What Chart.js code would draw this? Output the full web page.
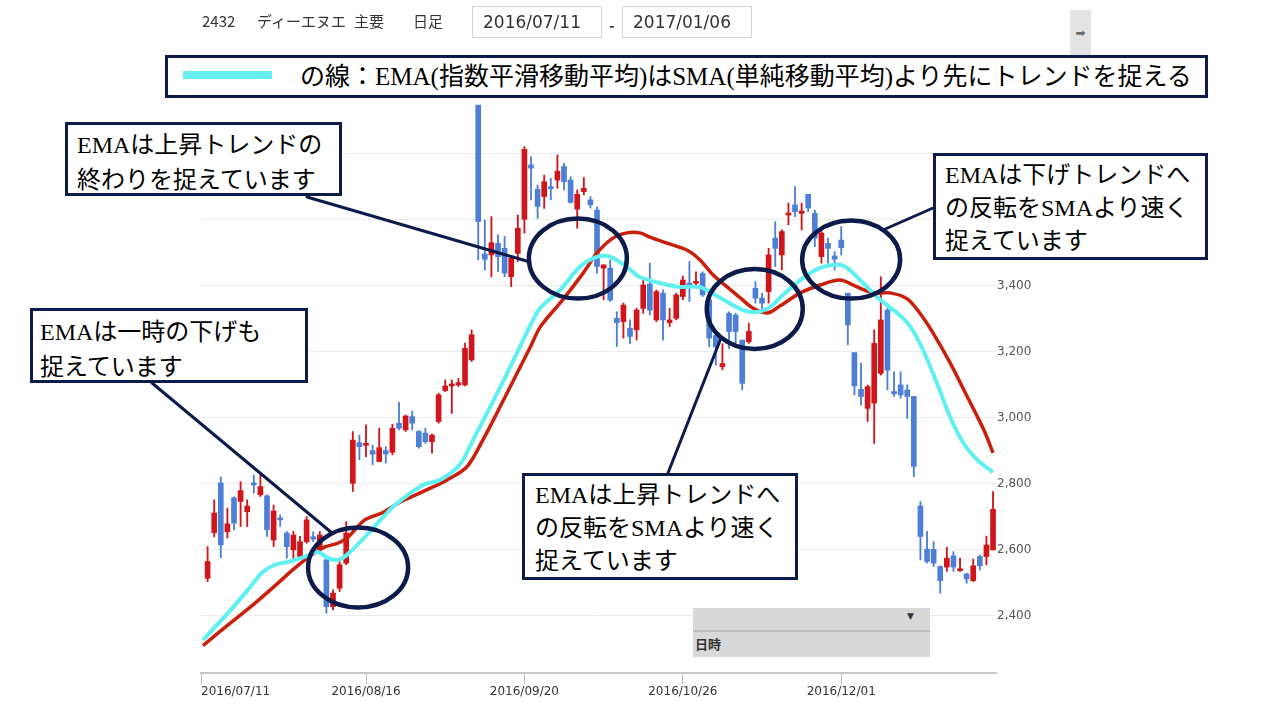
<!DOCTYPE html>
<html lang="ja">
<head>
<meta charset="utf-8">
<title>2432 ディーエヌエ 日足</title>
<script src="https://cdn.jsdelivr.net/npm/chart.js@4.4.1/dist/chart.umd.min.js"></script>
<style>
  html, body { margin: 0; padding: 0; background: #fff; }
  #wrap { position: relative; width: 1280px; height: 720px; overflow: hidden; font-family: "Noto Sans CJK JP", sans-serif; }
  #stats-chart { position: absolute; left: 0; top: 0; }
  .hdr { position: absolute; top: 10px; font-size: 15px; line-height: 22px; color: #333; white-space: nowrap; }
  .date-box { position: absolute; top: 6px; width: 130px; height: 32px; box-sizing: border-box; border: 1px solid #d4d4d4;
              font-family: "DejaVu Sans", sans-serif; font-size: 17px; line-height: 30px; color: #333; padding-left: 10px; background: #fff; }
  #side-btn { position: absolute; left: 1070px; top: 10px; width: 21px; height: 46px; background: #e3e3e3; color: #666;
              font-family: "DejaVu Sans", sans-serif; font-size: 12px; line-height: 46px; text-align: center; }
  .note { position: absolute; box-sizing: border-box; background: #fff; border: 3px solid #0d1b4b; color: #000;
          font-family: "Liberation Serif", "Noto Sans CJK JP", serif; font-size: 24px; white-space: nowrap; }
  #legend-box { left: 165px; top: 55px; width: 1043px; height: 43px; }
  #legend-swatch { position: absolute; left: 15px; top: 13px; width: 89px; height: 8px; background: #66eef0; }
  #legend-text { position: absolute; left: 132px; top: 1px; font-size: 25px; line-height: 36px; }
  #dropdown { position: absolute; left: 693px; top: 608px; width: 237px; height: 49px; background: #d8d8d8; }
  #dropdown .bar { position: absolute; left: 0; top: 22px; width: 237px; height: 2px; background: #bdbdbd; }
  #dropdown .arrow { position: absolute; left: 214px; top: 3px; font-size: 9px; color: #333; font-family: "DejaVu Sans", sans-serif; }
  #dropdown .lbl { position: absolute; left: 2px; top: 26px; font-size: 13px; font-weight: bold; color: #333; line-height: 20px; }
</style>
</head>
<body>
<div id="wrap">
  <canvas id="stats-chart" width="1280" height="720"></canvas>

  <div class="hdr" style="left:202px">2432</div>
  <div class="hdr" style="left:257px">ディーエヌエ</div>
  <div class="hdr" style="left:354px">主要</div>
  <div class="hdr" style="left:413px">日足</div>
  <div class="date-box" style="left:472px">2016/07/11</div>
  <div class="hdr" style="left:609px;top:14px;font-weight:bold">-</div>
  <div class="date-box" style="left:622px">2017/01/06</div>
  <div id="side-btn">➡</div>

  <div class="note" id="legend-box">
    <div id="legend-swatch"></div>
    <div id="legend-text">の線：EMA(指数平滑移動平均)はSMA(単純移動平均)より先にトレンドを捉える</div>
  </div>

  <div class="note" style="left:65px;top:122px;width:277px;height:74px;padding:3px 0 0 9px;line-height:35px">EMAは上昇トレンドの<br>終わりを捉えています</div>
  <div class="note" style="left:30px;top:308px;width:278px;height:75px;padding:4px 0 0 7px;line-height:35px">EMAは一時の下げも<br>捉えています</div>
  <div class="note" style="left:933px;top:153px;width:275px;height:107px;padding:3px 0 0 9px;line-height:33px">EMAは下げトレンドへ<br>の反転をSMAより速く<br>捉えています</div>
  <div class="note" style="left:522px;top:473px;width:276px;height:107px;padding:3px 0 0 10px;line-height:33px">EMAは上昇トレンドへ<br>の反転をSMAより速く<br>捉えています</div>

  <div id="dropdown">
    <div class="arrow">▼</div>
    <div class="bar"></div>
    <div class="lbl">日時</div>
  </div>
</div>

<script>
// 2016/07/11 - 2017/01/06, one candle per trading day (index 0..119)
const openVals = [2514, 2652, 2803, 2655, 2758, 2747, 2716, 2803, 2767, 2764,
                  2630, 2694, 2651, 2600, 2580, 2625, 2640, 2600, 2570, 2428,
                  2484, 2560, 2802, 2925, 2917, 2901, 2868, 2901, 2896, 2984,
                  2964, 3004, 2959, 2954, 2928, 2989, 3083, 3097, 3100, 3100,
                  3176, 3948, 3497, 3494, 3529, 3514, 3428, 3499, 3602, 3767,
                  3693, 3671, 3699, 3721, 3762, 3721, 3633, 3686, 3661, 3630,
                  3454, 3454, 3302, 3292, 3272, 3267, 3332, 3406, 3297, 3378,
                  3289, 3302, 3368, 3408, 3408, 3438, 3358, 3250, 3155, 3317,
                  3312, 3236, 3231, 3393, 3363, 3383, 3545, 3494, 3615, 3646,
                  3620, 3678, 3620, 3489, 3529, 3491, 3539, 3378, 3198, 3087,
                  3029, 3045, 3135, 3327, 3080, 3100, 3085, 3065, 2733, 2602,
                  2602, 2550, 2548, 2582, 2537, 2527, 2507, 2580, 2580, 2600];
const highVals = [2610, 2752, 2821, 2727, 2761, 2807, 2752, 2827, 2827, 2767,
                  2736, 2706, 2656, 2656, 2641, 2701, 2655, 2656, 2580, 2479,
                  2565, 2686, 2959, 2948, 2979, 2918, 2969, 2913, 2981, 3047,
                  3009, 3021, 2962, 2969, 2951, 3075, 3115, 3115, 3120, 3227,
                  3267, 3948, 3600, 3610, 3555, 3550, 3489, 3615, 3822, 3792,
                  3706, 3736, 3726, 3797, 3772, 3731, 3691, 3729, 3671, 3640,
                  3464, 3479, 3322, 3348, 3297, 3332, 3420, 3469, 3388, 3388,
                  3332, 3378, 3430, 3474, 3443, 3443, 3363, 3260, 3225, 3322,
                  3317, 3236, 3287, 3413, 3378, 3514, 3595, 3570, 3651, 3701,
                  3651, 3678, 3630, 3565, 3545, 3504, 3580, 3378, 3198, 3166,
                  3100, 3267, 3428, 3332, 3140, 3140, 3100, 3065, 2747, 2656,
                  2625, 2552, 2608, 2595, 2575, 2530, 2572, 2585, 2642, 2777];
const lowVals  = [2504, 2640, 2576, 2636, 2661, 2671, 2671, 2772, 2762, 2641,
                  2610, 2671, 2575, 2575, 2575, 2620, 2625, 2590, 2408, 2418,
                  2474, 2555, 2777, 2873, 2883, 2858, 2868, 2863, 2888, 2964,
                  2959, 2964, 2908, 2923, 2893, 2984, 3080, 3014, 3095, 3097,
                  3171, 3479, 3448, 3428, 3444, 3428, 3398, 3474, 3560, 3661,
                  3605, 3635, 3661, 3696, 3691, 3651, 3575, 3676, 3636, 3439,
                  3358, 3353, 3216, 3242, 3226, 3236, 3317, 3312, 3292, 3236,
                  3277, 3297, 3358, 3353, 3398, 3368, 3216, 3160, 3146, 3211,
                  3226, 3085, 3226, 3348, 3327, 3348, 3459, 3449, 3585, 3610,
                  3570, 3625, 3519, 3469, 3469, 3448, 3494, 3221, 3070, 3039,
                  2989, 2923, 3130, 3085, 3065, 3060, 2999, 2822, 2570, 2560,
                  2550, 2469, 2535, 2535, 2535, 2499, 2504, 2539, 2555, 2600];
const closeVals = [2565, 2712, 2615, 2679, 2681, 2780, 2733, 2797, 2792, 2661,
                   2718, 2691, 2610, 2645, 2625, 2691, 2633, 2645, 2428, 2469,
                   2555, 2651, 2933, 2913, 2923, 2890, 2910, 2891, 2969, 2969,
                   3006, 2984, 2913, 2928, 2948, 3070, 3097, 3102, 3107, 3211,
                   3252, 3595, 3481, 3531, 3489, 3439, 3484, 3575, 3814, 3757,
                   3641, 3716, 3695, 3748, 3716, 3653, 3678, 3696, 3646, 3459,
                   3464, 3357, 3289, 3342, 3247, 3327, 3403, 3327, 3383, 3297,
                   3297, 3373, 3418, 3403, 3413, 3373, 3242, 3215, 3165, 3262,
                   3262, 3105, 3262, 3363, 3348, 3494, 3514, 3565, 3620, 3625,
                   3627, 3636, 3545, 3560, 3514, 3481, 3516, 3282, 3097, 3065,
                   3095, 3226, 3297, 3145, 3073, 3070, 3065, 2853, 2641, 2565,
                   2560, 2507, 2575, 2548, 2542, 2512, 2552, 2552, 2615, 2723];

// moving averages (candle index, price)
const emaIdx  = [-0.7, 3.1, 6.1, 8.2, 10.2, 12.2, 14.8, 16.7, 18.2, 19.8, 21.1, 23.4, 25.8, 28.4, 32.6, 35.2, 38.2, 40.2,
                 42.8, 45.4, 47.3, 49.3, 50.4, 53.4, 56.4, 59, 61, 63.5, 65.5, 68.5, 71.6, 74.6, 76.1, 78.7, 81.1,
                 83.2, 85.2, 86.7, 89.8, 92.8, 95.8, 97.3, 99.3, 101.9, 104.5, 106.5, 108.4, 110.5, 112.5, 114.5, 116.6, 119];
const emaVals = [2327, 2409, 2479, 2530, 2555, 2564, 2580, 2594, 2576, 2570, 2585, 2630, 2682, 2736, 2797, 2812, 2858, 2933,
                 3033, 3136, 3215, 3297, 3333, 3388, 3458, 3488, 3488, 3458, 3427, 3409, 3397, 3397, 3382, 3352, 3327,
                 3321, 3336, 3364, 3418, 3455, 3464, 3448, 3409, 3358, 3318, 3276, 3206, 3106, 3003, 2924, 2873, 2836];
const smaIdx  = [-0.7, 3.1, 7.2, 10.7, 13.2, 15.8, 17.8, 19.8, 21.3, 23.8, 26.4, 28.4, 29.9, 33.2, 36.3, 39.3, 41.7, 44.3,
                 46.9, 48.9, 50.4, 53.8, 56.9, 59, 61.4, 63.5, 65.5, 67, 69.6, 72.6, 74.6, 76.6, 78.7, 80.7, 82.6,
                 84.8, 86.7, 89.8, 92.8, 95.8, 98.4, 100.8, 103.4, 106, 107.9, 109.9, 112.5, 115.1, 117.6, 119];
const smaVals = [2310, 2373, 2439, 2500, 2545, 2585, 2609, 2621, 2639, 2691, 2712, 2736, 2752, 2782, 2812, 2852, 2933, 3033,
                 3136, 3215, 3276, 3358, 3439, 3500, 3545, 3561, 3561, 3548, 3530, 3509, 3479, 3433, 3397, 3364, 3333,
                 3318, 3339, 3379, 3403, 3418, 3397, 3379, 3379, 3361, 3318, 3258, 3167, 3064, 2964, 2894];

const xTickIdx = [-1, 24, 48, 72, 96, 119.45];
const xTickLabels = ['2016/07/11', '2016/08/16', '2016/09/20', '2016/10/26', '2016/12/01', ''];
const yTickVals = [2400, 2600, 2800, 3000, 3200, 3400, 3600, 3800, 4000];
const yTickLabels = ['2,400', '2,600', '2,800', '3,000', '3,200', '3,400', '', '', ''];

const upColor = '#d0151b';
const downColor = '#4e7fd6';
const navy = '#0d1b4b';

// highlighted areas (candle index, price) and their leader lines (page pixels)
const ellipses = [
    { idx: 22.8, val: 2547, rx: 50, ry: 40 },
    { idx: 56.1, val: 3483, rx: 49, ry: 40 },
    { idx: 82.9, val: 3330, rx: 48, ry: 40 },
    { idx: 97.5, val: 3480, rx: 49, ry: 39 }
];
const leaderLines = [
    [307, 197, 530, 262],
    [152, 383, 332, 533],
    [883, 230, 933, 208],
    [668, 473, 721, 338]
];

const candleColor = (context) => closeVals[context.dataIndex] >= openVals[context.dataIndex] ? upColor : downColor;

const noteMarks = {
    id: 'noteMarks',
    afterDraw(chart) {
        const { ctx, scales } = chart;
        ctx.save();
        ctx.strokeStyle = navy;
        ctx.lineWidth = 3;
        ctx.lineCap = 'round';
        for (const l of leaderLines) {
            ctx.beginPath();
            ctx.moveTo(l[0], l[1]);
            ctx.lineTo(l[2], l[3]);
            ctx.stroke();
        }
        ctx.lineWidth = 4.5;
        for (const e of ellipses) {
            ctx.beginPath();
            ctx.ellipse(scales.x.getPixelForValue(e.idx), scales.y.getPixelForValue(e.val), e.rx, e.ry, 0, 0, Math.PI * 2);
            ctx.stroke();
        }
        ctx.restore();
    }
};

Chart.defaults.font.family = '"DejaVu Sans", sans-serif';
Chart.defaults.font.size = 12;

const ctx = document.getElementById('stats-chart');

const chart = new Chart(ctx, {
    type: 'bar',
    data: {
        datasets: [
            {
                type: 'line',
                label: 'EMA',
                data: emaIdx.map((v, i) => ({ x: v, y: emaVals[i] })),
                borderColor: '#5ff0f2',
                borderWidth: 4,
                pointRadius: 0,
                tension: 0.3,
                order: 0
            },
            {
                type: 'line',
                label: 'SMA',
                data: smaIdx.map((v, i) => ({ x: v, y: smaVals[i] })),
                borderColor: '#c8200c',
                borderWidth: 3.5,
                pointRadius: 0,
                tension: 0.3,
                order: 0
            },
            {
                label: 'body',
                data: openVals.map((o, i) => ({ x: i, y: [o, closeVals[i]] })),
                backgroundColor: candleColor,
                barThickness: 5,
                minBarLength: 2,
                grouped: false,
                order: 1
            },
            {
                label: 'wick',
                data: lowVals.map((l, i) => ({ x: i, y: [l, highVals[i]] })),
                backgroundColor: candleColor,
                barThickness: 1.2,
                grouped: false,
                order: 2
            }
        ]
    },
    options: {
        responsive: false,
        animation: false,
        layout: { padding: { left: 201, top: 88, right: 239, bottom: 17 } },
        scales: {
            x: {
                type: 'linear',
                offset: false,
                min: -1,
                max: 119.45,
                afterBuildTicks: (axis) => { axis.ticks = xTickIdx.map(v => ({ value: v })); },
                afterFit: (axis) => { axis.height = 30; },
                ticks: {
                    autoSkip: false,
                    maxRotation: 0,
                    align: 'inner',
                    padding: 1,
                    color: '#333',
                    callback: (value, index) => xTickLabels[index]
                },
                grid: {
                    offset: false,
                    drawOnChartArea: false,
                    drawTicks: true,
                    tickLength: 11,
                    color: (c) => c.index === xTickIdx.length - 1 ? 'rgba(0,0,0,0)' : '#bdbdbd'
                },
                border: { display: true, color: '#c8c8c8', width: 2 }
            },
            y: {
                position: 'right',
                min: 2227,
                max: 4000,
                afterBuildTicks: (axis) => { axis.ticks = yTickVals.map(v => ({ value: v })); },
                afterFit: (axis) => { axis.width = 45; },
                ticks: {
                    padding: 1,
                    color: '#555',
                    callback: (v, index) => yTickLabels[index]
                },
                grid: { color: '#ebebeb', drawTicks: false },
                border: { display: false }
            }
        },
        plugins: {
            legend: { display: false },
            tooltip: { enabled: false }
        }
    },
    plugins: [noteMarks]
});
</script>
</body>
</html>
